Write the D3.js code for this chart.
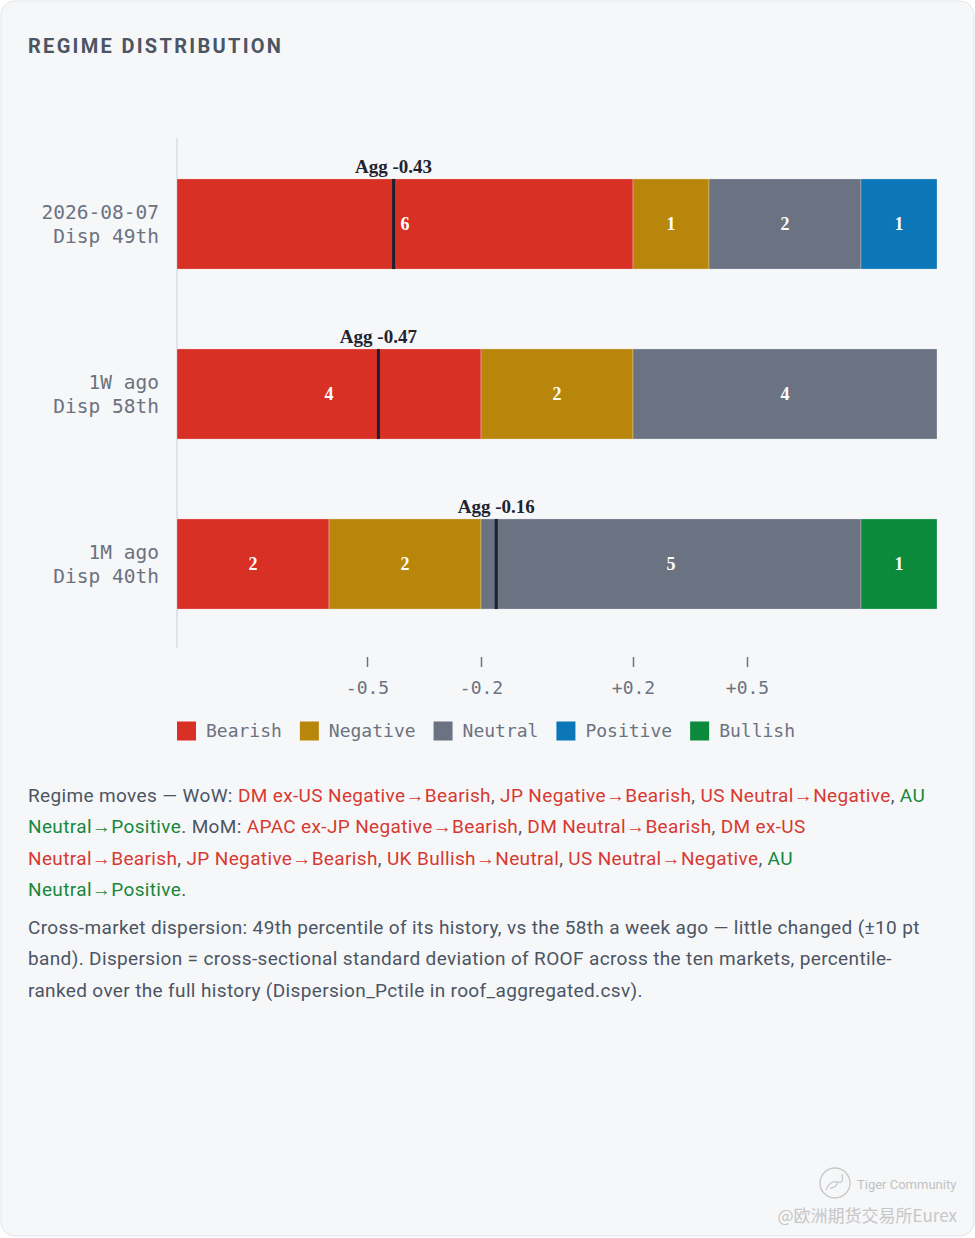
<!DOCTYPE html>
<html>
<head>
<meta charset="utf-8">
<script src="https://cdn.jsdelivr.net/npm/d3@7"></script>
<style>
	html, body { margin: 0; padding: 0; background: #ffffff; }
	#wrap { position: relative; width: 975px; height: 1238px; overflow: hidden; }
	#chart { position: absolute; left: 0; top: 0; }
	.notes {
		position: absolute; left: 28px; top: 780px; width: 940px;
		font-family: Roboto, "Noto Sans", sans-serif; font-size: 19px;
		letter-spacing: 0.36px;
		line-height: 31.3px; color: #4b5563;
	}
	.notes p { margin: 0 0 7px 0; white-space: nowrap; }
	.dn { color: #d63a31; }
	.up { color: #17873c; }
</style>
</head>
<body>
<div id="wrap">
	<svg id="chart" width="975" height="1238"></svg>
	<div class="notes">
		<p>Regime moves — WoW: <span class="dn">DM ex-US Negative→Bearish</span>, <span class="dn">JP Negative→Bearish</span>, <span class="dn">US Neutral→Negative</span>, <span class="up">AU</span><br><span class="up">Neutral→Positive</span>. MoM: <span class="dn">APAC ex-JP Negative→Bearish</span>, <span class="dn">DM Neutral→Bearish</span>, <span class="dn">DM ex-US</span><br><span class="dn">Neutral→Bearish</span>, <span class="dn">JP Negative→Bearish</span>, <span class="dn">UK Bullish→Neutral</span>, <span class="dn">US Neutral→Negative</span>, <span class="up">AU</span><br><span class="up">Neutral→Positive</span>.</p>
		<p>Cross-market dispersion: 49th percentile of its history, vs the 58th a week ago — little changed (±10 pt<br>band). Dispersion = cross-sectional standard deviation of ROOF across the ten markets, percentile-<br>ranked over the full history (Dispersion_Pctile in roof_aggregated.csv).</p>
	</div>
</div>
<script>
	// data
	var rowLabels = ["2026-08-07", "1W ago", "1M ago"];
	var dispLabels = ["Disp 49th", "Disp 58th", "Disp 40th"];
	var regimes = ["Bearish", "Negative", "Neutral", "Positive", "Bullish"];
	var bearish = [6, 4, 2];
	var negative = [1, 2, 2];
	var neutral = [2, 4, 5];
	var positive = [1, 0, 0];
	var bullish = [0, 0, 1];
	var aggScores = [-0.43, -0.47, -0.16];
	var tickValues = [-0.5, -0.2, 0.2, 0.5];
	var tickLabels = ["-0.5", "-0.2", "+0.2", "+0.5"];
	var marketCount = 10;

	var colors = {
		Bearish: "#d93026",
		Negative: "#b8860b",
		Neutral: "#6b7383",
		Positive: "#0b77b8",
		Bullish: "#0b8a3c",
	};

	var mono = "'DejaVu Sans Mono', 'Liberation Mono', monospace";
	var serif = "'Liberation Serif', 'DejaVu Serif', serif";

	var svg = d3.select("#chart");

	// card
	svg.append("rect")
		.attr("x", 1).attr("y", 1)
		.attr("width", 973).attr("height", 1235)
		.attr("rx", 14)
		.style("fill", "#f6f7f9")
		.style("stroke", "#e2e5e9");

	svg.append("text")
		.attr("x", 28).attr("y", 53)
		.style("font-family", "Roboto, 'Noto Sans', sans-serif")
		.style("font-weight", "700")
		.style("font-size", "20px")
		.style("letter-spacing", "2.3px")
		.style("fill", "#4b5563")
		.text("REGIME DISTRIBUTION");

	var table = rowLabels.map((r, i) => ({
		row: r,
		Bearish: bearish[i],
		Negative: negative[i],
		Neutral: neutral[i],
		Positive: positive[i],
		Bullish: bullish[i],
	}));

	var plotLeft = 177, plotRight = 937, plotTop = 139, plotBottom = 649;

	var xCount = d3.scaleLinear().domain([0, marketCount]).range([plotLeft, plotRight]);
	var xAgg = d3.scaleLinear().domain([-1, 1]).range([plotLeft, plotRight]);
	var yScale = d3.scaleBand().domain(rowLabels).range([plotTop, plotBottom])
		.paddingInner(0.47).paddingOuter(0.235);

	var series = d3.stack().keys(regimes)(table);

	// y axis line
	svg.append("line")
		.attr("x1", plotLeft).attr("x2", plotLeft)
		.attr("y1", plotTop - 1).attr("y2", plotBottom - 1)
		.style("stroke", "#d9dce1")
		.style("stroke-width", 1.5);

	var layers = svg.append("g").selectAll("g")
		.data(series)
		.join("g")
		.style("fill", d => colors[d.key]);

	layers.selectAll("rect")
		.data(d => d.filter(s => s[1] > s[0]))
		.join("rect")
		.attr("x", d => xCount(d[0]))
		.attr("y", d => yScale(d.data.row))
		.attr("width", d => xCount(d[1]) - xCount(d[0]))
		.attr("height", yScale.bandwidth())
		.style("stroke", "rgba(255,255,255,0.45)")
		.style("stroke-width", 0.6);

	layers.selectAll("text")
		.data(d => d.filter(s => s[1] > s[0]))
		.join("text")
		.attr("x", d => (xCount(d[0]) + xCount(d[1])) / 2)
		.attr("y", d => yScale(d.data.row) + yScale.bandwidth() / 2)
		.attr("dy", "0.35em")
		.attr("text-anchor", "middle")
		.style("font-family", serif)
		.style("font-weight", "700")
		.style("font-size", "18px")
		.style("fill", "#ffffff")
		.text(d => d[1] - d[0]);

	// aggregate markers
	var agg = svg.append("g").selectAll("g")
		.data(rowLabels.map((r, i) => ({row: r, value: aggScores[i]})))
		.join("g");

	agg.append("line")
		.attr("x1", d => xAgg(d.value)).attr("x2", d => xAgg(d.value))
		.attr("y1", d => yScale(d.row))
		.attr("y2", d => yScale(d.row) + yScale.bandwidth())
		.style("stroke", "#1c1f2e")
		.style("stroke-width", 3);

	agg.append("text")
		.attr("x", d => xAgg(d.value))
		.attr("y", d => yScale(d.row) - 6)
		.attr("text-anchor", "middle")
		.style("font-family", serif)
		.style("font-weight", "700")
		.style("font-size", "19px")
		.style("fill", "#1f2430")
		.text(d => "Agg " + d.value.toFixed(2));

	// row labels
	var rowText = svg.append("g").selectAll("text")
		.data(rowLabels)
		.join("text")
		.attr("x", 159)
		.attr("y", d => yScale(d) + yScale.bandwidth() / 2)
		.attr("text-anchor", "end")
		.style("font-family", mono)
		.style("font-size", "19.5px")
		.style("fill", "#6b7280");
	rowText.append("tspan").attr("x", 159).attr("dy", "-0.28em").text(d => d);
	rowText.append("tspan").attr("x", 159).attr("dy", "1.23em").text((d, i) => dispLabels[i]);

	// aggregate axis
	var axis = svg.append("g")
		.attr("transform", `translate(0, 657)`)
		.call(d3.axisBottom(xAgg)
			.tickValues(tickValues)
			.tickSize(10)
			.tickPadding(14)
			.tickFormat((d, i) => tickLabels[i]));
	axis.select(".domain").remove();
	axis.selectAll(".tick line").style("stroke", "#6b7280").style("stroke-width", 1.5);
	axis.selectAll(".tick text")
		.style("font-family", mono)
		.style("font-size", "18px")
		.style("fill", "#6b7280");

	// legend
	var legend = svg.append("g").attr("transform", "translate(177, 731)");
	var lx = 0;
	regimes.forEach(function(k){
		let g = legend.append("g").attr("transform", `translate(${lx}, 0)`);
		g.append("rect")
			.attr("x", 0).attr("y", -9.5)
			.attr("width", 19).attr("height", 19)
			.style("fill", colors[k]);
		let t = g.append("text")
			.attr("x", 29).attr("y", 0)
			.attr("dy", "0.35em")
			.style("font-family", mono)
			.style("font-size", "18px")
			.style("fill", "#6b7280")
			.text(k);
		lx += 29 + t.node().getComputedTextLength() + 18;
	});

	// watermark
	var wm = svg.append("g").style("fill", "none").style("stroke", "#c8c8c8");
	wm.append("circle").attr("cx", 835).attr("cy", 1183).attr("r", 15).style("stroke-width", 1.4);
	wm.append("path")
		.attr("d", "M826,1190 q4,-10 12,-8 q6,2 4,-8 M838,1182 q-2,6 -8,6")
		.style("stroke-width", 1.3);
	svg.append("text")
		.attr("x", 857).attr("y", 1189)
		.style("font-family", "Roboto, sans-serif")
		.style("font-size", "13px")
		.style("fill", "#c2c2c2")
		.text("Tiger Community");
	svg.append("text")
		.attr("x", 957).attr("y", 1222)
		.attr("text-anchor", "end")
		.style("font-family", "'Noto Sans CJK SC', sans-serif")
		.style("font-size", "17px")
		.style("fill", "#c6c6c6")
		.text("@欧洲期货交易所Eurex");
</script>
</body>
</html>
